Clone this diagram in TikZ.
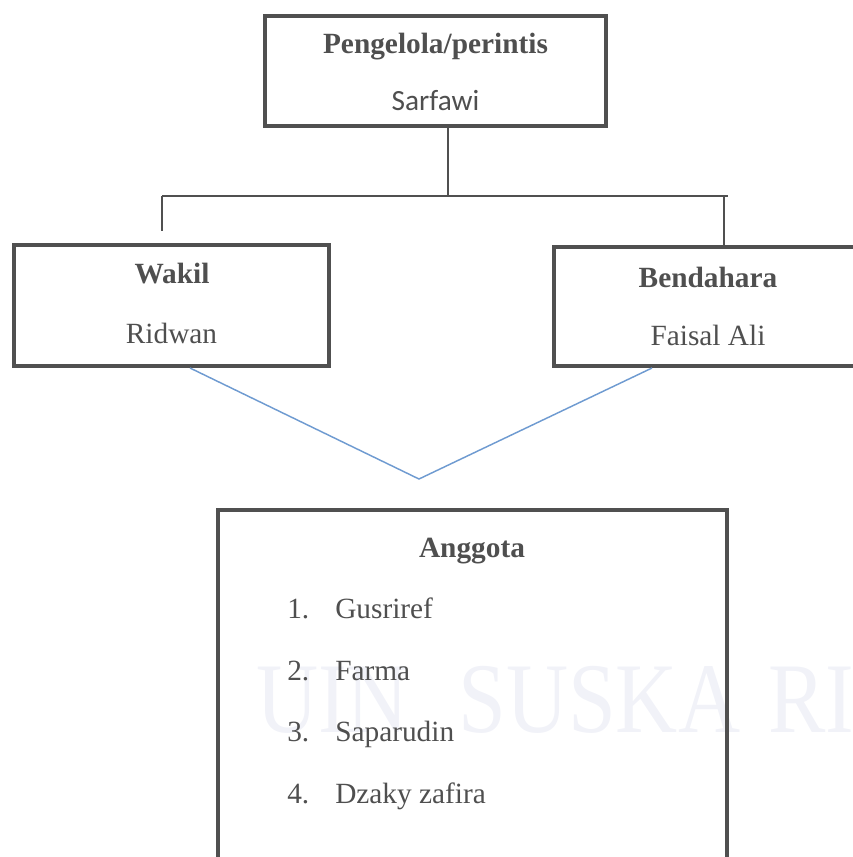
\documentclass[tikz,border=0pt]{standalone}
\usepackage{fontspec}
\setmainfont{Liberation Serif}
\newfontfamily\calibrifont{Carlito}

\definecolor{boxgray}{HTML}{505050}
\definecolor{txtgray}{HTML}{4F4F4F}
\definecolor{linkblue}{HTML}{6F9BD1}
\definecolor{markcol}{HTML}{F1F2F8}

\begin{document}
\begin{tikzpicture}[x=0.75pt, y=-0.75pt,
    box/.style={draw=boxgray, line width=3pt, rectangle, inner sep=0pt},
    roletext/.style={font=\fontsize{22}{26}\selectfont\bfseries, text=txtgray, anchor=base, inner sep=0pt},
    persontext/.style={font=\fontsize{22}{26}\selectfont, text=txtgray, anchor=base, inner sep=0pt},
    markword/.style={font=\fontsize{75}{80}\selectfont, text=markcol, anchor=base west, inner sep=0pt, xscale=0.86},
    link/.style={draw=boxgray, line width=1.1pt},
    bluelink/.style={draw=linkblue, line width=1.1pt}]
  \useasboundingbox (0,0) rectangle (853,857);
  \clip (0,0) rectangle (853,857);

  % watermark
  \foreach \word/\xpos [count=\k] in {UIN/256, SUSKA/458, RI/768}
    \node[markword] (mark\k) at (\xpos,732) {\word};

  % boxes
  \node[box, minimum width=255.75pt, minimum height=82.5pt] (head) at (435.5,71) {};
  \node[box, minimum width=236.25pt, minimum height=90.75pt] (wakil) at (171.5,305.5) {};
  \node[box, minimum width=236.25pt, minimum height=89.25pt] (bend) at (711.5,306.5) {};
  \node[box, minimum width=381.75pt, minimum height=285pt] (anggota) at (472.5,700) {};

  % tree lines
  \coordinate (hub) at (448,196);
  \coordinate (hubl) at (162,196);
  \coordinate (hubr) at (728,196);
  \coordinate (dropl) at (162,231);
  \coordinate (dropr) at (724,196);
  \draw[link] (head.south -| hub) -- (hub);
  \draw[link] (hubl) -- (hubr);
  \draw[link] (hubl) -- (dropl);
  \draw[link] (dropr) -- (bend.north -| dropr);

  % blue V
  \coordinate (vleft) at (190,368);
  \coordinate (vtip) at (419,479);
  \coordinate (vright) at (652,368);
  \draw[bluelink] (vleft) -- (vtip) -- (vright);

  % texts
  \node[roletext] (headtitle) at (435.5,53) {Pengelola/perintis};
  \node[persontext, font=\fontsize{22}{26}\selectfont\calibrifont] (headname) at (435.5,110) {Sarfawi};
  \node[roletext] (wakiltitle) at (172,283) {Wakil};
  \node[persontext] (wakilname) at (171.5,343) {Ridwan};
  \node[roletext] (bendtitle) at (708,287) {Bendahara};
  \node[persontext] (bendname) at (708,345) {Faisal Ali};
  \node[roletext] (anggotatitle) at (472,557) {Anggota};
  \foreach \who [count=\i] in {Gusriref, Farma, Saparudin, Dzaky zafira} {
    \node[persontext, anchor=base west] (num\i) at (287,{557+\i*61.6}) {\i.};
    \node[persontext, anchor=base west] (member\i) at (335,{557+\i*61.6}) {\who};
  }
\end{tikzpicture}
\end{document}
